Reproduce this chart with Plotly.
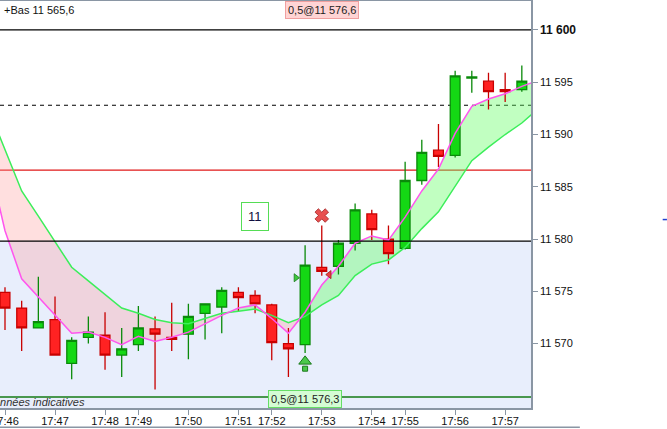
import plotly.graph_objects as go

# candles (index on x, one per bar)
opens = [11574.9, 11573.4, 11571.5, 11572.3, 11568.1, 11570.6, 11570.8, 11568.9,
         11569.9, 11571.4, 11570.6, 11570.9, 11572.9, 11573.5, 11574.9, 11574.6,
         11573.7, 11570.0, 11569.9, 11577.3, 11577.4, 11579.6, 11582.4, 11580.0,
         11579.1, 11585.6, 11588.5, 11588.0, 11595.4, 11595.1, 11594.3, 11594.3]
highs = [11575.4, 11574.1, 11576.4, 11574.5, 11570.6, 11572.6, 11573.0, 11571.5,
         11573.6, 11572.6, 11573.9, 11573.8, 11573.8, 11575.4, 11575.4, 11575.1,
         11573.8, 11571.5, 11579.4, 11581.3, 11579.9, 11583.4, 11582.8, 11581.3,
         11587.4, 11589.5, 11591.0, 11596.1, 11596.1, 11595.9, 11595.9, 11596.6]
lows = [11571.3, 11569.3, 11571.5, 11568.9, 11566.6, 11570.0, 11567.5, 11566.8,
        11569.3, 11565.6, 11569.3, 11568.5, 11570.4, 11571.0, 11573.1, 11572.9,
        11568.4, 11566.8, 11569.1, 11576.5, 11576.6, 11578.9, 11579.9, 11577.6,
        11579.0, 11585.2, 11586.9, 11587.8, 11594.0, 11592.4, 11593.1, 11594.1]
closes = [11573.4, 11571.5, 11572.1, 11568.9, 11570.3, 11571.1, 11568.9, 11569.5,
          11571.5, 11570.9, 11570.4, 11572.6, 11573.8, 11575.1, 11574.4, 11573.8,
          11570.1, 11569.5, 11577.5, 11576.9, 11579.6, 11582.8, 11580.9, 11578.6,
          11585.6, 11588.3, 11587.9, 11595.6, 11595.5, 11594.1, 11594.1, 11595.1]

# moving averages, from one bar before the first candle to one after the last
ma_idx = list(range(-1, 33))
ma_fast = [11587.7, 11580.8, 11576.2, 11574.5, 11572.7, 11571.0, 11571.1, 11570.6,
           11569.9, 11570.7, 11570.2, 11570.6, 11571.1, 11571.9, 11572.7, 11573.4,
           11573.7, 11572.4, 11571.0, 11573.0, 11575.6, 11577.4, 11579.6, 11580.3,
           11579.9, 11582.1, 11584.6, 11586.7, 11590.1, 11592.7, 11593.4, 11593.9,
           11594.6, 11595.2]
ma_slow = [11592.5, 11588.6, 11584.6, 11582.2, 11579.8, 11577.3, 11576.0, 11574.7,
           11573.4, 11572.9, 11572.3, 11572.0, 11571.9, 11572.4, 11572.9, 11573.1,
           11573.3, 11572.7, 11572.0, 11572.6, 11573.7, 11574.6, 11576.5, 11577.6,
           11578.0, 11579.2, 11581.0, 11582.6, 11585.0, 11587.5, 11588.8, 11590.0,
           11591.1, 11592.5]

# time axis labels, placed on the bar where the minute changes
tick_bars = [0, 3, 6, 8, 11, 14, 16, 19, 22, 24, 27, 30]
tick_times = ["17:46", "17:47", "17:48", "17:49", "17:50", "17:51", "17:52",
              "17:53", "17:54", "17:55", "17:56", "17:57"]

# price axis
price_ticks = [11570, 11575, 11580, 11585, 11590, 11595, 11600]

# horizontal levels
level_black = [11600, 11579.8]
level_dash = 11592.8
level_red = 11586.6
level_green = 11564.9
zone_top = 11579.8

# signals
buy_bar, buy_head, buy_stem = 18, 11568.3, 11567.6
stop_bar, stop_price = 19, 11582.25
entry_bar, entry_price = 18, 11576.3
exit_bar, exit_price = 19, 11576.6
count_bar, count_price = 15, 11582.2

x_range = [-0.3, 31.55]
y_range = [11563.84, 11602.77]


def fmt_price(v):
    s = "{:,.0f}".format(v)
    return s.replace(",", " ")


def band_paths(x, a, b):
    """
    splits the area between a and b into runs where a>b and a<b
    returns a dict sign -> list of svg paths (data coordinates)
    """
    pts = []
    for i in range(len(x)):
        if i > 0:
            d0 = a[i - 1] - b[i - 1]
            d1 = a[i] - b[i]
            if d0 * d1 < 0:
                t = d0 / (d0 - d1)
                xc = x[i - 1] + t * (x[i] - x[i - 1])
                yc = a[i - 1] + t * (a[i] - a[i - 1])
                pts.append((xc, yc, yc, 0))
        d = a[i] - b[i]
        pts.append((x[i], a[i], b[i], 1 if d > 0 else -1))

    runs = []
    cur = [pts[0]]
    sign = pts[0][3]
    for p in pts[1:]:
        cur.append(p)
        if p[3] == 0:
            runs.append((sign, cur))
            cur = [p]
            sign = None
        elif sign is None:
            sign = p[3]
    runs.append((sign, cur))

    out = {1: [], -1: []}
    for sign, run in runs:
        poly = ([(p[0], p[1]) for p in run]
                + [(p[0], p[2]) for p in reversed(run)])
        path = "M " + " L ".join("{},{}".format(px, py) for px, py in poly) + " Z"
        out[sign].append(path)
    return out


fig = go.Figure()

bars = list(range(len(opens)))
fig.add_trace(go.Candlestick(
    x=bars, open=opens, high=highs, low=lows, close=closes,
    increasing=dict(line=dict(color="#0a8a0a", width=1.3), fillcolor="#14d814"),
    decreasing=dict(line=dict(color="#c80000", width=1.3), fillcolor="#ff2222"),
    whiskerwidth=0, hoverinfo="skip"))

fig.add_trace(go.Scatter(x=ma_idx, y=ma_slow, mode="lines",
                         line=dict(color="#3cee5a", width=1.5), hoverinfo="skip"))
fig.add_trace(go.Scatter(x=ma_idx, y=ma_fast, mode="lines",
                         line=dict(color="#ff55ee", width=1.5), hoverinfo="skip"))

# markers
fig.add_trace(go.Scatter(x=[buy_bar], y=[buy_stem], mode="markers",
                         marker=dict(symbol="square", size=5, color="#4cc84c",
                                     line=dict(color="#1a7a1a", width=1))))
fig.add_trace(go.Scatter(x=[buy_bar], y=[buy_head], mode="markers",
                         marker=dict(symbol="triangle-up", size=11, color="#4cc84c",
                                     line=dict(color="#1a7a1a", width=1))))
fig.add_trace(go.Scatter(x=[stop_bar], y=[stop_price], mode="markers",
                         marker=dict(symbol="x", size=12, color="#e85050",
                                     line=dict(color="#a02020", width=0.8))))
fig.add_trace(go.Scatter(x=[entry_bar - 0.55], y=[entry_price], mode="markers",
                         marker=dict(symbol="triangle-right", size=7, color="#3cc83c",
                                     line=dict(color="#1a7a1a", width=0.8))))
fig.add_trace(go.Scatter(x=[exit_bar + 0.45], y=[exit_price], mode="markers",
                         marker=dict(symbol="triangle-left", size=7, color="#e84040",
                                     line=dict(color="#a02020", width=0.8))))

# everything under the candles has to be a "below" shape
shapes = [dict(type="rect", xref="paper", x0=0, x1=1, yref="y",
               y0=y_range[0], y1=zone_top, fillcolor="#e8eefc",
               line=dict(width=0), layer="below")]
bands = band_paths(ma_idx, ma_fast, ma_slow)
for path in bands[1]:
    shapes.append(dict(type="path", xref="x", yref="y", path=path,
                       fillcolor="rgba(100,255,100,0.4)", line=dict(width=0),
                       layer="below"))
for path in bands[-1]:
    shapes.append(dict(type="path", xref="x", yref="y", path=path,
                       fillcolor="rgba(255,150,150,0.3)", line=dict(width=0),
                       layer="below"))
shapes.append(dict(type="line", xref="paper", x0=0, x1=1, yref="y",
                   y0=level_red, y1=level_red,
                   line=dict(color="#e01818", width=1.2), layer="below"))
shapes.append(dict(type="line", xref="paper", x0=0, x1=1, yref="y",
                   y0=level_dash, y1=level_dash,
                   line=dict(color="black", width=1.2, dash="4px,4px"),
                   layer="below"))
shapes.append(dict(type="line", xref="paper", x0=0, x1=1, yref="y",
                   y0=level_green, y1=level_green,
                   line=dict(color="#157a15", width=1.5), layer="below"))
for lv in level_black:
    shapes.append(dict(type="line", xref="paper", x0=0, x1=1, yref="y",
                       y0=lv, y1=lv, line=dict(color="black", width=1.3),
                       layer="above"))
# frame line under the time labels and the small blue mark on the right
shapes.append(dict(type="line", xref="paper", yref="paper", x0=0, x1=1.092,
                   y0=-0.047, y1=-0.047, line=dict(color="#8a96a4", width=1.5)))
shapes.append(dict(type="line", xref="paper", yref="paper", x0=1.248, x1=1.256,
                   y0=0.463, y1=0.463, line=dict(color="#2040d0", width=1.5)))

font = "Arial, Liberation Sans, sans-serif"
annotations = [
    dict(text="+Bas 11 565,6", xref="paper", yref="paper", x=0.004, y=0.997,
         xanchor="left", yanchor="top", showarrow=False,
         font=dict(family=font, size=11, color="#111")),
    dict(text="0,5@11 576,6", xref="x", yref="paper", x=exit_bar, y=1.0,
         xanchor="center", yanchor="top", showarrow=False,
         bgcolor="#ffd4d4", bordercolor="#f0a0a0", borderwidth=1, borderpad=2,
         font=dict(family=font, size=11, color="#222")),
    dict(text="0,5@11 576,3", xref="x", yref="paper", x=entry_bar, y=0.0,
         xanchor="center", yanchor="bottom", showarrow=False,
         bgcolor="#d4fcd4", bordercolor="#66dd66", borderwidth=1, borderpad=2,
         font=dict(family=font, size=11, color="#222")),
    dict(text="11", xref="x", yref="y", x=count_bar, y=count_price,
         showarrow=False, bgcolor="white", bordercolor="#55dd55",
         borderwidth=1, borderpad=6,
         font=dict(family=font, size=13, color="#101040")),
    dict(text="<i>Données indicatives</i>", xref="paper", yref="paper",
         x=0.163, y=0.015, xanchor="right", yanchor="middle", showarrow=False,
         font=dict(family=font, size=11, color="#333")),
]

tick_text = []
for p in price_ticks:
    if p == 11600:
        tick_text.append("<b><span style='font-size:12px'>" + fmt_price(p)
                         + "</span></b>")
    else:
        tick_text.append(fmt_price(p))

fig.update_layout(
    width=667, height=429,
    margin=dict(l=0, r=136, t=1, b=21),
    paper_bgcolor="white", plot_bgcolor="rgba(0,0,0,0)",
    showlegend=False,
    boxgap=0.16,
    shapes=shapes,
    annotations=annotations,
    font=dict(family=font, size=11, color="#111"),
    xaxis=dict(range=x_range, tickvals=tick_bars, ticktext=tick_times,
               showgrid=False, zeroline=False, rangeslider=dict(visible=False),
               showline=True, mirror=True, linecolor="#8a96a4", linewidth=1.5,
               ticks="outside", ticklen=5, tickcolor="#8a96a4",
               tickfont=dict(size=11), ticklabelstandoff=-3,
               ticklabeloverflow="allow", automargin=False),
    yaxis=dict(range=y_range, side="right", tickvals=price_ticks,
               ticktext=tick_text, showgrid=False, zeroline=False,
               showline=True, linecolor="#8a96a4", linewidth=1.5,
               ticks="outside", ticklen=5, tickcolor="#8a96a4",
               tickfont=dict(size=11), automargin=False),
)

# the page body has an 8px margin by default, drop it so the chart fills the window
fig.write_html("out.html",
               config={"displayModeBar": False},
               post_script="document.body.style.margin='0';"
                           "document.body.style.overflow='hidden';")
